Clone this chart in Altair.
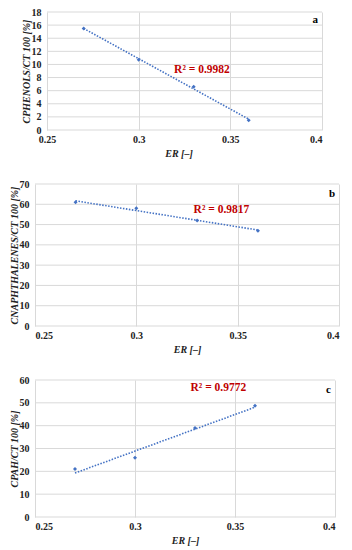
import altair as alt
import pandas as pd

# ---- data ----
er = [0.27, 0.30, 0.33, 0.36]
phenols = [15.5, 10.7, 6.6, 1.5]
naphthalenes = [61.0, 58.0, 52.0, 47.0]
pah = [21.0, 26.0, 39.0, 48.7]
x_ticks = [0.25, 0.30, 0.35, 0.40]
r2_labels = ["R² = 0.9982", "R² = 0.9817", "R² = 0.9772"]
panel_letters = ["a", "b", "c"]
y_titles = ["CPHENOLS/CT 100 [%]", "CNAPHTHALENES/CT 100 [%]", "CPAH/CT 100 [%]"]

BLUE = "#4472C4"
RED = "#C00000"
GRID = "#D9D9D9"
FONT = "Liberation Serif"


def panel(vals, ymax, ystep, ytitle, r2, r2x, r2y, letter, w, h, shift=0, letter_y=4):
    df = pd.DataFrame({"ER": er, "C": vals})
    yticks = list(range(0, ymax + 1, ystep))
    xmin = 0.25 - shift / (w - shift) * 0.15
    common = dict(
        domain=False, ticks=False, labelOverlap=False,
        labelFont=FONT, labelFontWeight="bold", labelFontSize=10, labelColor="#222222",
        titleFont=FONT, titleFontWeight="bold", titleFontStyle="italic", titleFontSize=10,
        titleColor="#222222",
    )
    xs = alt.X(
        "ER:Q",
        scale=alt.Scale(domain=[xmin, 0.40], nice=False, zero=False),
        axis=alt.Axis(values=x_ticks, format=".2~f", title="ER [–]", labelPadding=4, titlePadding=4,
                      grid=True, gridColor=GRID, **common),
    )
    ys = alt.Y(
        "C:Q",
        scale=alt.Scale(domain=[0, ymax], nice=False),
        axis=alt.Axis(values=yticks, title=ytitle, labelPadding=6, offset=-shift, grid=False,
                      titleX=-21, titleY=h / 2, titleBaseline="middle", titleAlign="center", **common),
    )
    # horizontal grid lines spanning the ER range 0.25 - 0.40
    gdf = pd.DataFrame({"ER": [0.25] * len(yticks), "ER2": [0.40] * len(yticks), "C": yticks})
    grid = (
        alt.Chart(gdf)
        .mark_rule(color=GRID, strokeWidth=1)
        .encode(x=xs, x2="ER2:Q", y=ys)
    )
    base = alt.Chart(df)
    trend = (
        base.transform_regression("ER", "C")
        .mark_line(color=BLUE, strokeDash=[1.5, 1.5], strokeWidth=1.6)
        .encode(x=xs, y=ys)
    )
    pts = base.mark_point(shape="diamond", filled=True, size=16, color=BLUE, opacity=1).encode(x=xs, y=ys)
    lab = pd.DataFrame({"ER": [r2x], "C": [r2y], "t": [r2]})
    r2t = (
        alt.Chart(lab)
        .mark_text(font=FONT, fontWeight="bold", fontSize=11.5, color=RED)
        .encode(x=xs, y=ys, text="t:N")
    )
    let = pd.DataFrame({"t": [letter]})
    lt = (
        alt.Chart(let)
        .mark_text(font=FONT, fontWeight="bold", fontSize=11, color="black", align="right", baseline="top")
        .encode(x=alt.value(w - 4), y=alt.value(letter_y), text="t:N")
    )
    return alt.layer(grid, trend, pts, r2t, lt).properties(width=w, height=h)


pa = panel(phenols, 18, 2, y_titles[0], r2_labels[0], 0.3345, 9.2, panel_letters[0], 287, 118,
           shift=12, letter_y=2)
pb = panel(naphthalenes, 70, 10, y_titles[1], r2_labels[1], 0.342, 57, panel_letters[1], 304, 142)
pc = panel(pah, 60, 10, y_titles[2], r2_labels[2], 0.3417, 56.5, panel_letters[2], 300, 137)

chart = (
    alt.vconcat(pa, pb, pc, spacing=54, bounds="flush")
    .properties(padding={"left": 0, "top": -2, "right": 0, "bottom": 0})
    .configure_view(stroke="transparent")
)

chart.save("out.html", embed_options={"renderer": "svg", "actions": False})
